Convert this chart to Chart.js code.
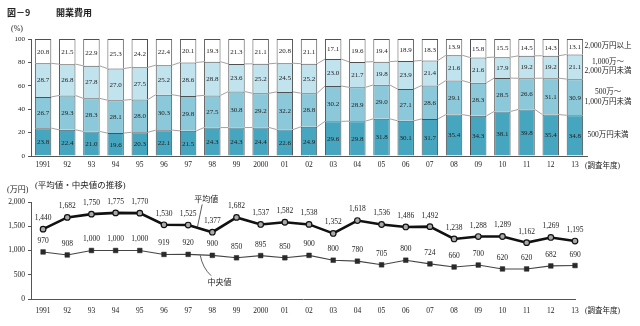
<!DOCTYPE html>
<html><head><meta charset="utf-8">
<script src="https://cdn.jsdelivr.net/npm/chart.js@4.4.1/dist/chart.umd.min.js"></script>
<style>
html,body{margin:0;padding:0;background:#fff;width:640px;height:326px;overflow:hidden;position:relative}
.t{position:absolute;white-space:nowrap;color:#222;font-family:"Liberation Serif","Noto Sans CJK JP",serif;line-height:1}
canvas{position:absolute;left:0}
</style></head><body>
<canvas id="c1" width="640" height="178" style="top:0"></canvas>
<canvas id="c2" width="640" height="148" style="top:178px"></canvas>
<div class="t" style="left:7px;top:6px;font:bold 9px 'Noto Sans CJK JP'">図－9</div>
<div class="t" style="left:56px;top:6px;font:bold 9px 'Noto Sans CJK JP'">開業費用</div>
<div class="t" style="left:11px;top:25px;font-size:8px">(%)</div>
<div class="t" style="left:7px;top:186px;font-size:8px">(万円)</div>
<div class="t" style="left:35px;top:181px;font-size:8.5px">(平均値・中央値の推移)</div>
<div class="t" style="left:585px;top:162px;font-size:7.5px">(調査年度)</div>
<div class="t" style="left:585px;top:307px;font-size:7.5px">(調査年度)</div>
<script>
const years = ['1991','92','93','94','95','96','97','98','99','2000','01','02','03','04','05','06','07','08','09','10','11','12','13'];
const under500 = [23.8,22.4,21.0,19.6,20.3,22.1,21.5,24.3,24.3,24.4,22.6,24.9,29.6,29.8,31.8,30.1,31.7,35.4,34.3,38.1,39.8,35.4,34.8];
const from500to1000 = [26.7,29.3,28.3,28.1,28.0,30.3,29.8,27.5,30.8,29.2,32.2,28.8,30.2,28.9,29.0,27.1,28.6,29.1,28.3,28.5,26.6,31.1,30.9];
const from1000to2000 = [28.7,26.8,27.8,27.0,27.5,25.2,28.6,28.8,23.6,25.2,24.5,25.2,23.0,21.7,19.8,23.9,21.4,21.6,21.6,17.9,19.2,19.2,21.1];
const over2000 = [20.8,21.5,22.9,25.3,24.2,22.4,20.1,19.3,21.3,21.1,20.8,21.1,17.1,19.6,19.4,18.9,18.3,13.9,15.8,15.5,14.5,14.3,13.1];
const seriesNames = [['500万円未満'],['500万～','1,000万円未満'],['1,000万～','2,000万円未満'],['2,000万円以上']];
const pctTicks = [0,20,40,60,80,100];
const averageVals = [1440,1682,1750,1775,1770,1530,1525,1377,1682,1537,1582,1538,1352,1618,1536,1486,1492,1238,1288,1289,1162,1269,1195];
const medianVals = [970,908,1000,1000,1000,919,920,900,850,895,850,900,800,780,705,800,724,660,700,620,620,682,690];
const yenTicks = [0,500,1000,1500,2000];

const SERIF = '"Liberation Serif","Noto Sans CJK JP",serif';
const INK = '#222';

const barPlugin = {
  id: 'barDecor',
  beforeDatasetsDraw(chart) {
    const ctx = chart.ctx;
    ctx.save();
    ctx.strokeStyle = '#8a8a8a';
    ctx.lineWidth = 0.8;
    for (let d = 0; d < 3; d++) {
      const els = chart.getDatasetMeta(d).data;
      for (let i = 0; i < els.length - 1; i++) {
        const a = els[i], b = els[i + 1];
        ctx.beginPath();
        ctx.moveTo(a.x + a.width / 2, a.y);
        ctx.lineTo(b.x - b.width / 2, b.y);
        ctx.stroke();
      }
    }
    ctx.restore();
  },
  afterDatasetsDraw(chart) {
    const ctx = chart.ctx;
    ctx.save();
    ctx.fillStyle = INK;
    ctx.textAlign = 'center';
    ctx.textBaseline = 'middle';
    ctx.font = '7px ' + SERIF;
    chart.data.datasets.forEach((ds, d) => {
      const els = chart.getDatasetMeta(d).data;
      els.forEach((el, i) => {
        ctx.fillText(ds.data[i].toFixed(1), el.x, (el.y + el.base) / 2 + 0.5);
      });
    });
    ctx.font = '7.5px ' + SERIF;
    chart.data.datasets.forEach((ds, d) => {
      const els = chart.getDatasetMeta(d).data;
      const el = els[els.length - 1];
      const cy = (el.y + el.base) / 2;
      const lines = seriesNames[d];
      const x = 608;
      if (lines.length === 1) ctx.fillText(lines[0], x, cy - (d === 3 ? 1 : 0));
      else { ctx.fillText(lines[0], x, cy - 5); ctx.fillText(lines[1], x, cy + 4.5); }
    });
    ctx.restore();
  }
};

new Chart(document.getElementById('c1'), {
  type: 'bar',
  data: {
    labels: years,
    datasets: [
      { data: under500, backgroundColor: '#46a6bf' },
      { data: from500to1000, backgroundColor: '#8bc9da' },
      { data: from1000to2000, backgroundColor: '#c1e3ed' },
      { data: over2000, backgroundColor: '#ffffff' }
    ].map(d => Object.assign(d, { borderColor: '#505050', borderWidth: 1, barPercentage: 0.68, categoryPercentage: 1 }))
  },
  options: {
    responsive: false, animation: false, devicePixelRatio: 1,
    layout: { padding: { top: 39, right: 53, left: 0, bottom: 0 } },
    plugins: { legend: { display: false }, tooltip: { enabled: false } },
    scales: {
      x: {
        stacked: true,
        afterFit: s => { s.height = 22; },
        grid: { display: false, drawTicks: false },
        border: { display: true, color: '#555', width: 1 },
        ticks: { color: INK, font: { family: SERIF, size: 7.5 }, padding: 5, maxRotation: 0, autoSkip: false }
      },
      y: {
        stacked: true, min: 0, max: 100,
        afterFit: s => { s.width = 31; },
        afterBuildTicks: s => { s.ticks = pctTicks.map(v => ({ value: v })); },
        grid: { drawOnChartArea: false, tickLength: 3, color: '#555' },
        border: { display: true, color: '#555', width: 1 },
        ticks: { color: INK, font: { family: SERIF, size: 7 }, padding: 3 }
      }
    }
  },
  plugins: [barPlugin]
});

const fmt = v => v.toLocaleString('en-US');

const linePlugin = {
  id: 'lineDecor',
  afterDatasetsDraw(chart) {
    const ctx = chart.ctx;
    const xs = chart.scales.x, ys = chart.scales.y;
    ctx.save();
    ctx.fillStyle = INK;
    ctx.textAlign = 'center';
    ctx.textBaseline = 'middle';
    ctx.font = '7.5px ' + SERIF;
    chart.data.datasets.forEach((ds, d) => {
      chart.getDatasetMeta(d).data.forEach((el, i) => {
        ctx.fillText(fmt(ds.data[i].y), el.x, el.y - 11);
      });
    });
    // annotations
    ctx.strokeStyle = '#333';
    ctx.lineWidth = 0.8;
    ctx.beginPath();
    ctx.moveTo(xs.getPixelForValue(6.58), ys.getPixelForValue(1950));
    ctx.lineTo(xs.getPixelForValue(6.38), ys.getPixelForValue(1475));
    ctx.stroke();
    ctx.beginPath();
    ctx.moveTo(xs.getPixelForValue(6.5), ys.getPixelForValue(900));
    ctx.quadraticCurveTo(xs.getPixelForValue(6.6), ys.getPixelForValue(640), xs.getPixelForValue(6.95), ys.getPixelForValue(480));
    ctx.stroke();
    ctx.font = '8px "Noto Sans CJK JP",sans-serif';
    ctx.fillText('平均値', xs.getPixelForValue(6.75), ys.getPixelForValue(2070));
    ctx.fillText('中央値', xs.getPixelForValue(7.3), ys.getPixelForValue(345));
    ctx.restore();
  }
};

new Chart(document.getElementById('c2'), {
  type: 'line',
  data: {
    datasets: [
      { data: averageVals.map((v, i) => ({ x: i, y: v })), borderColor: '#111', borderWidth: 2.6,
        pointStyle: 'circle', pointRadius: 2.8, pointBackgroundColor: '#aaa', pointBorderColor: '#111', pointBorderWidth: 1.2, tension: 0 },
      { data: medianVals.map((v, i) => ({ x: i, y: v })), borderColor: '#444', borderWidth: 1.1,
        pointStyle: 'rect', pointRadius: 3.3, pointBackgroundColor: '#2a2a2a', pointBorderColor: '#2a2a2a', pointBorderWidth: 0.5, tension: 0 }
    ]
  },
  options: {
    responsive: false, animation: false, devicePixelRatio: 1, clip: false,
    layout: { padding: { top: 24, right: 65, left: 0, bottom: 0 } },
    plugins: { legend: { display: false }, tooltip: { enabled: false } },
    scales: {
      x: {
        type: 'linear', min: -0.5, max: 22,
        afterFit: s => { s.height = 27; },
        afterBuildTicks: s => { s.ticks = years.map((_, i) => ({ value: i })); },
        grid: { display: false, drawTicks: false },
        border: { display: true, color: '#555', width: 1 },
        ticks: { color: INK, font: { family: SERIF, size: 7.5 }, padding: 7.5, maxRotation: 0, autoSkip: false,
          callback: v => years[v] }
      },
      y: {
        min: 0, max: 2000,
        afterFit: s => { s.width = 31; },
        afterBuildTicks: s => { s.ticks = yenTicks.map(v => ({ value: v })); },
        grid: { drawOnChartArea: false, tickLength: 3, color: '#555' },
        border: { display: true, color: '#555', width: 1 },
        ticks: { color: INK, font: { family: SERIF, size: 7.5 }, padding: 3, callback: v => fmt(v) }
      }
    }
  },
  plugins: [linePlugin]
});
</script>
</body></html>
